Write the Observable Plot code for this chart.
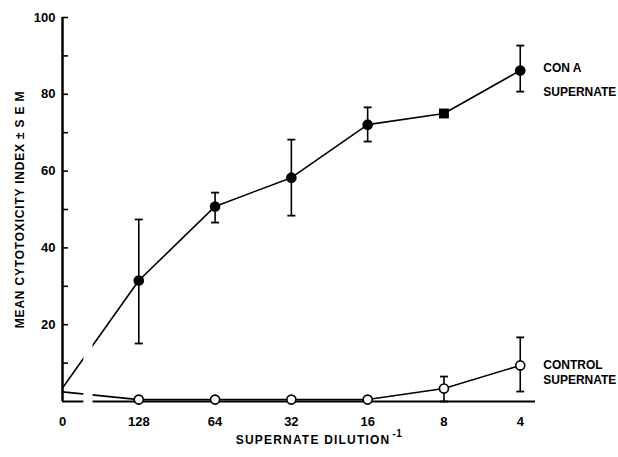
<!DOCTYPE html>
<html><head><meta charset="utf-8">
<script src="https://cdn.jsdelivr.net/npm/d3@7"></script>
<script src="https://cdn.jsdelivr.net/npm/@observablehq/plot@0.6"></script>
<style>
body{margin:0;background:#fff}
#chart svg{display:block}
</style>
</head><body><div id="chart"></div>
<script>
// x positions are the ordinal dilution steps (0 = no supernate)
const dilutionLabels = ["0", "128", "64", "32", "16", "8", "4"];
const conAMean      = [3.5, 31.5, 50.8, 58.3, 72.1, 75.0, 86.2];
const conAErrLow    = [null, 15.1, 46.6, 48.4, 67.7, null, 80.7];
const conAErrHigh   = [null, 47.4, 54.4, 68.2, 76.6, null, 92.7];
const controlMean    = [2.5, 0.5, 0.5, 0.5, 0.5, 3.4, 9.4];
const controlErrLow  = [null, null, null, null, null, 0, 2.6];
const controlErrHigh = [null, null, null, null, null, 6.5, 16.7];
const yMinorTicks = [10, 20, 30, 40, 50, 60, 70, 80, 90, 100];
const yLabelTicks = [20, 40, 60, 80, 100];

const build = (mean, lo, hi) => dilutionLabels.map((label, i) => ({i, label, mean: mean[i], lo: lo[i], hi: hi[i]}));
const conA = build(conAMean, conAErrLow, conAErrHigh);
const control = build(controlMean, controlErrLow, controlErrHigh);
const ends = s => s.filter(d => d.lo != null).flatMap(d => [{i: d.i, v: d.lo}, {i: d.i, v: d.hi}]);
const errEnds = [...ends(conA), ...ends(control)];

const font = "'Liberation Sans', Arial, Helvetica, sans-serif";
const cap = {draw(ctx, size) { const w = Math.sqrt(size / Math.PI); ctx.moveTo(-w, 0); ctx.lineTo(w, 0); }};
const axisBreak = [[0.28, 0.40]];

const chart = Plot.plot({
  width: 618, height: 457,
  marginLeft: 62, marginRight: 83, marginTop: 17, marginBottom: 56,
  style: {fontFamily: font, background: "white", color: "black"},
  x: {domain: [0, 6.2]},
  y: {domain: [0, 100]},
  marks: [
    Plot.ruleY([0], {stroke: "black", strokeWidth: 2}),
    Plot.ruleX([0], {stroke: "black", strokeWidth: 2.5}),
    Plot.line(conA, {x: "i", y: "mean", stroke: "black", strokeWidth: 1.6}),
    Plot.line(control, {x: "i", y: "mean", stroke: "black", strokeWidth: 1.6}),
    Plot.rect(axisBreak, {x1: d => d[0], x2: d => d[1], y1: -1.5, y2: 15, fill: "white"}),
    Plot.ruleX(conA.filter(d => d.lo != null), {x: "i", y1: "lo", y2: "hi", stroke: "black", strokeWidth: 1.6}),
    Plot.ruleX(control.filter(d => d.lo != null), {x: "i", y1: "lo", y2: "hi", stroke: "black", strokeWidth: 1.6}),
    Plot.dot(errEnds, {x: "i", y: "v", symbol: cap, r: 4, stroke: "black", strokeWidth: 1.8}),
    Plot.dot(conA.filter(d => d.i > 0 && d.i !== 5), {x: "i", y: "mean", r: 5.3, fill: "black", stroke: "none"}),
    Plot.dot(conA.filter(d => d.i === 5), {x: "i", y: "mean", symbol: "square", r: 5.6, fill: "black", stroke: "none"}),
    Plot.dot(control.filter(d => d.i > 0), {x: "i", y: "mean", r: 4.5, fill: "white", stroke: "black", strokeWidth: 1.6}),
    Plot.axisY({ticks: yMinorTicks, tickSize: -6, tickFormat: () => "", label: null, strokeWidth: 1.6}),
    Plot.axisY({ticks: yLabelTicks, tickSize: 0, tickPadding: 7, fontSize: 13, fontWeight: "bold", label: null}),
    Plot.axisX({ticks: d3.range(7), tickFormat: i => dilutionLabels[i], tickSize: 0, tickPadding: 15, fontSize: 13, fontWeight: "bold", label: null}),
    Plot.text(["MEAN CYTOTOXICITY INDEX ± S E M"], {frameAnchor: "left", dx: -42, rotate: -90, fontSize: 12, fontWeight: "bold", textAnchor: "middle", lineAnchor: "middle"}),
    Plot.text(["SUPERNATE DILUTION"], {frameAnchor: "bottom", dx: 20, dy: 39, fontSize: 12, fontWeight: "bold", textAnchor: "middle", lineAnchor: "middle"}),
    Plot.text([conA[6]], {x: "i", y: "mean", text: () => "CON A\nSUPERNATE", dx: 23, dy: 6, textAnchor: "start", lineHeight: 2.0, fontSize: 12, fontWeight: "bold"}),
    Plot.text([control[6]], {x: "i", y: "mean", text: () => "CONTROL\nSUPERNATE", dx: 23, dy: 6, textAnchor: "start", lineHeight: 1.33, fontSize: 12, fontWeight: "bold"})
  ]
});
document.getElementById("chart").append(chart);
d3.select(chart).selectAll("text").filter(function() { return this.textContent.startsWith("MEAN"); }).style("letter-spacing", "0.8px");
d3.select(chart).selectAll("text").filter(function() { return this.textContent === "SUPERNATE DILUTION"; })
  .style("letter-spacing", "1.2px")
  .append("tspan").attr("dx", "2").attr("dy", "-0.75em").style("font-size", "10px").style("letter-spacing", "0.5px").text("-1");
</script>
</body></html>
